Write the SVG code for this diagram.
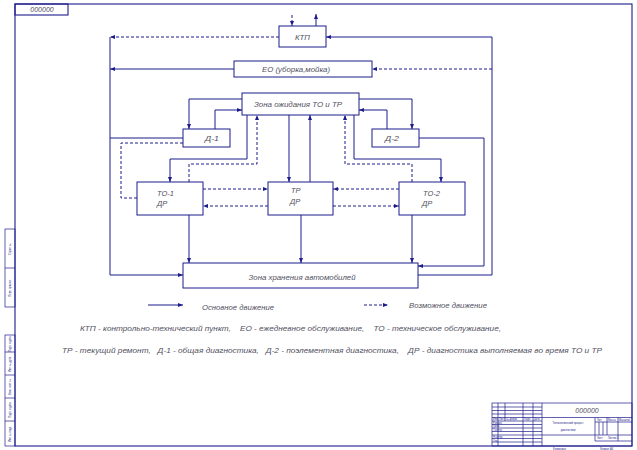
<svg xmlns="http://www.w3.org/2000/svg" width="637" height="450" viewBox="0 0 637 450">
<style>
.f{fill:none;stroke:#1c1c8c;stroke-width:1.1}
.b{fill:#fff;stroke:#1c1c8c;stroke-width:1}
.s{fill:none;stroke:#1c1c8c;stroke-width:1}
.d{fill:none;stroke:#1c1c8c;stroke-width:1;stroke-dasharray:3,2}
.t{font-family:"Liberation Sans",Arial,sans-serif;font-style:italic;font-size:7.5px;fill:#505060}
.m{font-family:"Liberation Sans",Arial,sans-serif;font-style:italic;font-size:7px;fill:#505060}
.x{font-family:"Liberation Sans",Arial,sans-serif;font-size:2.6px;fill:#1c1c8c}
.tb{fill:none;stroke:#1c1c8c;stroke-width:0.7}
</style>
<defs>
<marker id="a" viewBox="0 0 5 4" refX="5" refY="2" markerWidth="5" markerHeight="4" markerUnits="userSpaceOnUse" orient="auto">
<path d="M0,0 L5,2 L0,4 z" fill="#1c1c8c"/>
</marker>
</defs>
<rect width="637" height="450" fill="#fff"/>

<g id="frame">
<rect class="f" x="15" y="4" width="617" height="442"/>
<rect class="f" x="15" y="4" width="53" height="11"/>
<text class="m" x="42" y="12" text-anchor="middle" font-size="6">000000</text>
</g>

<g id="left-strip">
<rect class="tb" x="5" y="229" width="10" height="78"/>
<line class="tb" x1="5" y1="268" x2="15" y2="268"/>
<rect class="tb" x="5" y="335" width="10" height="111"/>
<line class="tb" x1="5" y1="352" x2="15" y2="352"/>
<line class="tb" x1="5" y1="375" x2="15" y2="375"/>
<line class="tb" x1="5" y1="398" x2="15" y2="398"/>
<line class="tb" x1="5" y1="421" x2="15" y2="421"/>
<text class="x" transform="translate(11,249) rotate(-90)" text-anchor="middle">Справ. №</text>
<text class="x" transform="translate(11,288) rotate(-90)" text-anchor="middle">Перв. примен.</text>
<text class="x" transform="translate(11,344) rotate(-90)" text-anchor="middle">Подп. и дата</text>
<text class="x" transform="translate(11,364) rotate(-90)" text-anchor="middle">Инв. № дубл.</text>
<text class="x" transform="translate(11,387) rotate(-90)" text-anchor="middle">Взам. инв. №</text>
<text class="x" transform="translate(11,410) rotate(-90)" text-anchor="middle">Подп. и дата</text>
<text class="x" transform="translate(11,434) rotate(-90)" text-anchor="middle">Инв. № подл.</text>
</g>

<g id="title-block">
<rect class="tb" x="492" y="403" width="140" height="43"/>
<line class="tb" x1="542" y1="403" x2="542" y2="446"/>
<line class="tb" x1="498" y1="403" x2="498" y2="446"/>
<line class="tb" x1="505" y1="403" x2="505" y2="421"/>
<line class="tb" x1="523" y1="403" x2="523" y2="446"/>
<line class="tb" x1="533" y1="403" x2="533" y2="446"/>
<line class="tb" x1="492" y1="407" x2="542" y2="407"/>
<line class="tb" x1="492" y1="410.5" x2="542" y2="410.5"/>
<line class="tb" x1="492" y1="414" x2="542" y2="414"/>
<line class="tb" x1="492" y1="417.5" x2="632" y2="417.5"/>
<line class="tb" x1="492" y1="421" x2="542" y2="421"/>
<line class="tb" x1="492" y1="424.5" x2="542" y2="424.5"/>
<line class="tb" x1="492" y1="428" x2="542" y2="428"/>
<line class="tb" x1="492" y1="431.5" x2="542" y2="431.5"/>
<line class="tb" x1="492" y1="435" x2="632" y2="435"/>
<line class="tb" x1="492" y1="438.5" x2="542" y2="438.5"/>
<line class="tb" x1="492" y1="442" x2="542" y2="442"/>
<line class="tb" x1="595" y1="417.5" x2="595" y2="441"/>
<line class="tb" x1="607" y1="417.5" x2="607" y2="435"/>
<line class="tb" x1="618" y1="417.5" x2="618" y2="441"/>
<line class="tb" x1="595" y1="422" x2="632" y2="422"/>
<line class="tb" x1="599" y1="422" x2="599" y2="435"/>
<line class="tb" x1="603" y1="422" x2="603" y2="435"/>
<line class="tb" x1="595" y1="441" x2="632" y2="441"/>
<text class="m" x="587" y="413" text-anchor="middle" font-size="7">000000</text>
<text class="x" x="568" y="424" text-anchor="middle" font-size="3.2">Технологический процесс</text>
<text class="x" x="568" y="431" text-anchor="middle" font-size="3.2">диагностики</text>
<text class="x" x="493" y="420.3">Изм.</text>
<text class="x" x="499" y="420.3">Лист</text>
<text class="x" x="506" y="420.3">№ докум.</text>
<text class="x" x="524" y="420.3">Подп.</text>
<text class="x" x="534" y="420.3">Дата</text>
<text class="x" x="493" y="423.8">Разраб.</text>
<text class="x" x="493" y="427.3">Пров.</text>
<text class="x" x="493" y="430.8">Т.контр.</text>
<text class="x" x="493" y="438">Н.контр.</text>
<text class="x" x="493" y="441.5">Утв.</text>
<text class="x" x="597" y="421">Лит.</text>
<text class="x" x="608" y="421">Масса</text>
<text class="x" x="619" y="421">Масштаб</text>
<text class="x" x="597" y="439">Лист</text>
<text class="x" x="608" y="439">Листов 1</text>
<text class="x" x="553" y="449.5" font-size="3.2">Копировал</text>
<text class="x" x="600" y="449.5" font-size="3.2">Формат  А4</text>
</g>

<g id="connectors">
<path class="d" d="M292,15 V26" marker-end="url(#a)"/>
<path class="s" d="M316,26 V14" marker-end="url(#a)"/>
<path class="d" d="M279,37 H110" marker-end="url(#a)"/>
<path class="s" d="M234,69 H110" marker-end="url(#a)"/>
<path class="s" d="M110,37 V275 H183" marker-end="url(#a)"/>
<path class="s" d="M183,138 H110"/>
<path class="s" d="M242,99 H189 V129" marker-end="url(#a)"/>
<path class="s" d="M215,129 V110 H242" marker-end="url(#a)"/>
<path class="s" d="M359,99 H412 V129" marker-end="url(#a)"/>
<path class="s" d="M387,129 V110 H359" marker-end="url(#a)"/>
<path class="d" d="M183,143 H121 V198 H137"/>
<path class="s" d="M247,115 V159 H170 V182" marker-end="url(#a)"/>
<path class="d" d="M189,182 V164 H257 V115" marker-end="url(#a)"/>
<path class="s" d="M289,115 V182" marker-end="url(#a)"/>
<path class="s" d="M310,182 V115" marker-end="url(#a)"/>
<path class="d" d="M412,182 V164 H345 V115" marker-end="url(#a)"/>
<path class="s" d="M354,115 V159 H441 V182" marker-end="url(#a)"/>
<path class="d" d="M203,189 H268" marker-end="url(#a)"/>
<path class="d" d="M268,206 H203" marker-end="url(#a)"/>
<path class="d" d="M399,189 H333" marker-end="url(#a)"/>
<path class="d" d="M333,206 H399" marker-end="url(#a)"/>
<path class="s" d="M189,215 V263" marker-end="url(#a)"/>
<path class="s" d="M301,215 V263" marker-end="url(#a)"/>
<path class="s" d="M412,215 V263" marker-end="url(#a)"/>
<path class="s" d="M419,138 H484 V266 H418" marker-end="url(#a)"/>
<path class="s" d="M418,275 H492 V37 H326" marker-end="url(#a)"/>
<path class="d" d="M492,69 H372" marker-end="url(#a)"/>
</g>

<g id="ktp">
<rect class="b" x="279" y="26" width="47" height="21"/>
<text class="t" x="302.5" y="40" text-anchor="middle" textLength="15" lengthAdjust="spacingAndGlyphs">КТП</text>
</g>
<g id="eo">
<rect class="b" x="234" y="61" width="138" height="16"/>
<text class="t" x="296" y="72" text-anchor="middle" textLength="68" lengthAdjust="spacingAndGlyphs">ЕО (уборка,мойка)</text>
</g>
<g id="zona-ozhidaniya">
<rect class="b" x="242" y="93" width="117" height="22"/>
<text class="t" x="298" y="107" text-anchor="middle" textLength="88" lengthAdjust="spacingAndGlyphs">Зона ожидания ТО и ТР</text>
</g>
<g id="d1">
<rect class="b" x="183" y="129" width="47" height="18"/>
<text class="t" x="212" y="141" text-anchor="middle" textLength="14" lengthAdjust="spacingAndGlyphs">Д-1</text>
</g>
<g id="d2">
<rect class="b" x="372" y="129" width="47" height="18"/>
<text class="t" x="392" y="141" text-anchor="middle" textLength="14" lengthAdjust="spacingAndGlyphs">Д-2</text>
</g>
<g id="to1">
<rect class="b" x="137" y="182" width="66" height="33"/>
<text class="t" x="157" y="196">ТО-1</text>
<text class="t" x="157" y="206">ДР</text>
</g>
<g id="tr">
<rect class="b" x="268" y="182" width="65" height="33"/>
<text class="t" x="291" y="193">ТР</text>
<text class="t" x="290" y="204">ДР</text>
</g>
<g id="to2">
<rect class="b" x="399" y="182" width="66" height="33"/>
<text class="t" x="423" y="196">ТО-2</text>
<text class="t" x="422" y="206">ДР</text>
</g>
<g id="zona-khraneniya">
<rect class="b" x="183" y="263" width="235" height="25"/>
<text class="t" x="302" y="280" text-anchor="middle" textLength="107" lengthAdjust="spacingAndGlyphs">Зона хранения автомобилей</text>
</g>

<g id="legend">
<path class="s" d="M148,305 H183" marker-end="url(#a)"/>
<text class="t" x="202" y="310" textLength="72" lengthAdjust="spacingAndGlyphs">Основное движение</text>
<path class="d" d="M364,305 H388" marker-end="url(#a)"/>
<text class="t" x="409" y="308" textLength="78" lengthAdjust="spacingAndGlyphs">Возможное движение</text>
<text class="t" x="80" y="331" textLength="421" lengthAdjust="spacingAndGlyphs" xml:space="preserve">КТП - контрольно-технический пункт,    ЕО - ежедневное обслуживание,    ТО - техническое обслуживание,</text>
<text class="t" x="62" y="353" textLength="540" lengthAdjust="spacingAndGlyphs" xml:space="preserve">ТР - текущий ремонт,   Д-1 - общая диагностика,   Д-2 - поэлементная диагностика,    ДР - диагностика выполняемая во время ТО и ТР</text>
</g>
</svg>
